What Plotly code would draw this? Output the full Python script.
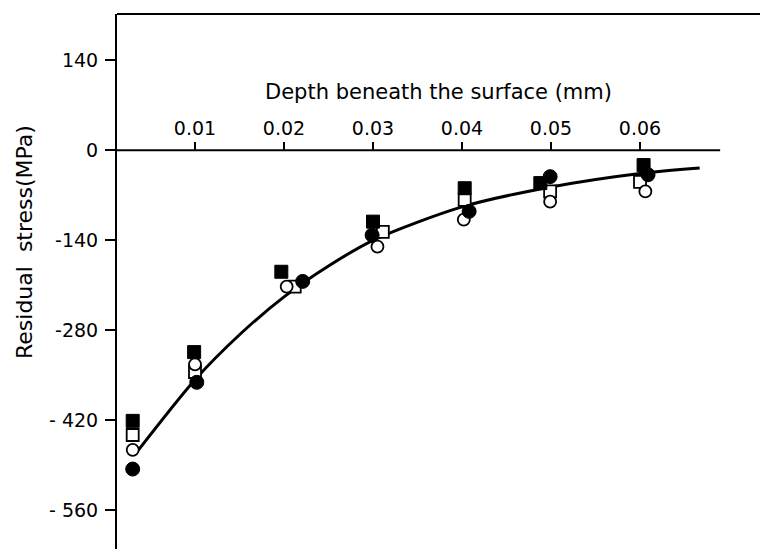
import plotly.graph_objects as go

# ---- data ----
fs_x = [0.0030, 0.0099, 0.0197, 0.0300, 0.0403, 0.0488, 0.0604]
fs_y = [-421, -314, -189, -111, -59, -51, -23]

os_x = [0.0030, 0.0100, 0.0212, 0.0311, 0.0403, 0.0499, 0.0600]
os_y = [-443, -345, -212, -127, -77, -64, -49]

oc_x = [0.0030, 0.0100, 0.0203, 0.0305, 0.0402, 0.0499, 0.0606]
oc_y = [-466, -333, -212, -150, -108, -80, -64]

fc_x = [0.0030, 0.0102, 0.0221, 0.0299, 0.0408, 0.0499, 0.0609]
fc_y = [-496, -361, -204, -132, -95, -41, -38]

curve_x = [0.0035, 0.0100, 0.0150, 0.0200, 0.0250, 0.0300, 0.0400, 0.0500, 0.0600, 0.0667]
curve_y = [-469, -357, -287, -228, -180, -140, -88, -57, -36, -27.5]

x_tickvals = [0.01, 0.02, 0.03, 0.04, 0.05, 0.06]
x_ticktext = ["0.01", "0.02", "0.03", "0.04", "0.05", "0.06"]
y_tickvals = [-560, -420, -280, -140, 0, 140]
y_ticktext = ["- 560", "- 420", "-280", "-140", "0", "140"]

X_RANGE = [0.001236, 0.07348]
Y_RANGE = [-620.4, 212.1]
ZERO_LINE_END = 0.0690

FONT = "DejaVu Sans"

fig = go.Figure()

fig.add_trace(go.Scatter(x=curve_x, y=curve_y, mode="lines",
                         line=dict(color="black", width=3, shape="spline", smoothing=0.8),
                         hoverinfo="skip"))
fig.add_trace(go.Scatter(x=os_x, y=os_y, mode="markers",
                         marker=dict(symbol="square", size=12, color="white",
                                     line=dict(color="black", width=1.8))))
fig.add_trace(go.Scatter(x=oc_x, y=oc_y, mode="markers",
                         marker=dict(symbol="circle", size=12, color="white",
                                     line=dict(color="black", width=1.8))))
fig.add_trace(go.Scatter(x=fs_x, y=fs_y, mode="markers",
                         marker=dict(symbol="square", size=13, color="black",
                                     line=dict(color="black", width=1))))
fig.add_trace(go.Scatter(x=fc_x, y=fc_y, mode="markers",
                         marker=dict(symbol="circle", size=14, color="black",
                                     line=dict(color="black", width=1))))

zero_pos = (0 - Y_RANGE[0]) / (Y_RANGE[1] - Y_RANGE[0])

fig.update_layout(
    width=760, height=549,
    margin=dict(l=117, r=0, t=14, b=0),
    paper_bgcolor="white", plot_bgcolor="white",
    showlegend=False,
    font=dict(family=FONT, color="black", size=19),
    xaxis=dict(
        range=X_RANGE, side="top", anchor="free", position=zero_pos,
        tickvals=x_tickvals, ticktext=x_ticktext,
        ticks="outside", ticklen=8, tickwidth=1.5, tickcolor="black",
        showline=False, showgrid=False, zeroline=False,
        tickfont=dict(family=FONT, size=19),
        title=dict(text="Depth beneath the surface (mm)",
                   font=dict(family=FONT, size=21), standoff=10),
    ),
    yaxis=dict(
        range=Y_RANGE,
        tickvals=y_tickvals, ticktext=y_ticktext,
        ticks="outside", ticklen=10, tickwidth=2, tickcolor="black",
        showline=True, linewidth=2, linecolor="black",
        showgrid=False, zeroline=False,
        tickfont=dict(family=FONT, size=19),
        ticklabelstandoff=3,
    ),
    annotations=[
        dict(text="Residual\u00a0 stress(MPa)", textangle=-90,
             xref="paper", yref="paper", x=0, y=(549 - 242) / 535,
             xanchor="center", yanchor="middle", xshift=-93, showarrow=False,
             font=dict(family=FONT, size=22, color="black")),
    ],
    shapes=[
        dict(type="line", xref="x", yref="y", x0=X_RANGE[0], x1=ZERO_LINE_END,
             y0=0, y1=0, line=dict(color="black", width=2)),
        dict(type="line", xref="paper", yref="paper", x0=0, x1=1, y0=1, y1=1,
             line=dict(color="black", width=2)),
    ],
)

fig.write_html("out.html")
